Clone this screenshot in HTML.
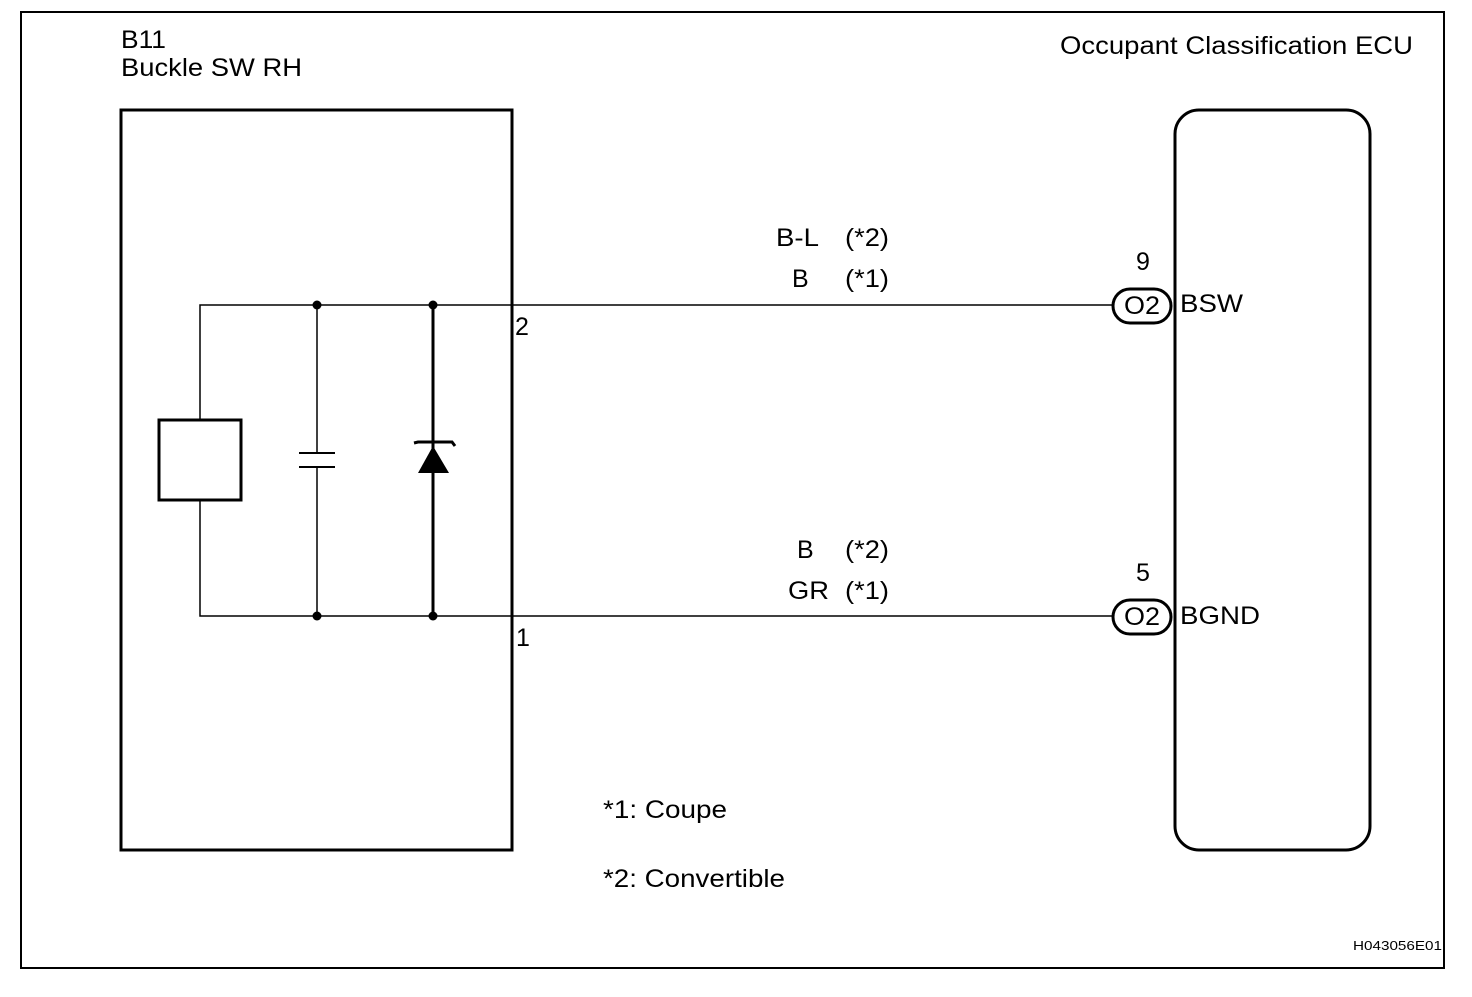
<!DOCTYPE html>
<html><head><style>body{margin:0;background:#fff}</style></head><body>
<svg width="1472" height="992" xmlns="http://www.w3.org/2000/svg" font-family="Liberation Sans, Arial, sans-serif" fill="#000">
<rect x="21" y="12" width="1423" height="956" fill="none" stroke="#000" stroke-width="2"/>
<rect x="121" y="110" width="391" height="740" fill="none" stroke="#000" stroke-width="3"/>
<rect x="1175" y="110" width="195" height="740" rx="24" fill="none" stroke="#000" stroke-width="3"/>
<g stroke="#000" stroke-width="1.5" fill="none">
<polyline points="200,420 200,305 1113,305"/>
<polyline points="200,500 200,616 1113,616"/>
<line x1="317" y1="305" x2="317" y2="453"/>
<line x1="317" y1="467" x2="317" y2="616"/>
</g>
<g stroke="#000" stroke-width="3" fill="none">
<rect x="159" y="420" width="82" height="80"/>
<line x1="433" y1="305" x2="433" y2="616"/>
<polyline points="414,443 418,442 452,442 455,446"/>
</g>
<g stroke="#000" stroke-width="2">
<line x1="299" y1="453" x2="335" y2="453"/>
<line x1="299" y1="467" x2="335" y2="467"/>
</g>
<polygon points="433,446 418,473 449,473"/>
<g>
<circle cx="317" cy="305" r="4.5"/><circle cx="433" cy="305" r="4.5"/>
<circle cx="317" cy="616" r="4.5"/><circle cx="433" cy="616" r="4.5"/>
</g>
<rect x="1113" y="289" width="58" height="34" rx="17" fill="#fff" stroke="#000" stroke-width="3"/>
<rect x="1113" y="600" width="58" height="34" rx="17" fill="#fff" stroke="#000" stroke-width="3"/>
<g font-size="25">
<text x="121" y="48" textLength="45" lengthAdjust="spacingAndGlyphs">B11</text>
<text x="121" y="76" textLength="181" lengthAdjust="spacingAndGlyphs">Buckle SW RH</text>
<text x="1060" y="54" textLength="353" lengthAdjust="spacingAndGlyphs">Occupant Classification ECU</text>
<text x="515" y="335">2</text>
<text x="516" y="646">1</text>
<text x="776" y="246" textLength="43" lengthAdjust="spacingAndGlyphs">B-L</text><text x="845" y="246" textLength="44" lengthAdjust="spacingAndGlyphs">(*2)</text>
<text x="792" y="287">B</text><text x="845" y="287" textLength="44" lengthAdjust="spacingAndGlyphs">(*1)</text>
<text x="797" y="558">B</text><text x="845" y="558" textLength="44" lengthAdjust="spacingAndGlyphs">(*2)</text>
<text x="788" y="599" textLength="41" lengthAdjust="spacingAndGlyphs">GR</text><text x="845" y="599" textLength="44" lengthAdjust="spacingAndGlyphs">(*1)</text>
<text x="1136" y="270">9</text>
<text x="1136" y="581">5</text>
<text x="1124" y="314" textLength="36" lengthAdjust="spacingAndGlyphs">O2</text>
<text x="1124" y="625" textLength="36" lengthAdjust="spacingAndGlyphs">O2</text>
<text x="1180" y="312" textLength="63" lengthAdjust="spacingAndGlyphs">BSW</text>
<text x="1180" y="624" textLength="80" lengthAdjust="spacingAndGlyphs">BGND</text>
<text x="603" y="818" textLength="124" lengthAdjust="spacingAndGlyphs">*1: Coupe</text>
<text x="603" y="887" textLength="182" lengthAdjust="spacingAndGlyphs">*2: Convertible</text>
</g>
<text x="1353" y="950" font-size="13" textLength="89" lengthAdjust="spacingAndGlyphs">H043056E01</text>
</svg>
</body></html>
